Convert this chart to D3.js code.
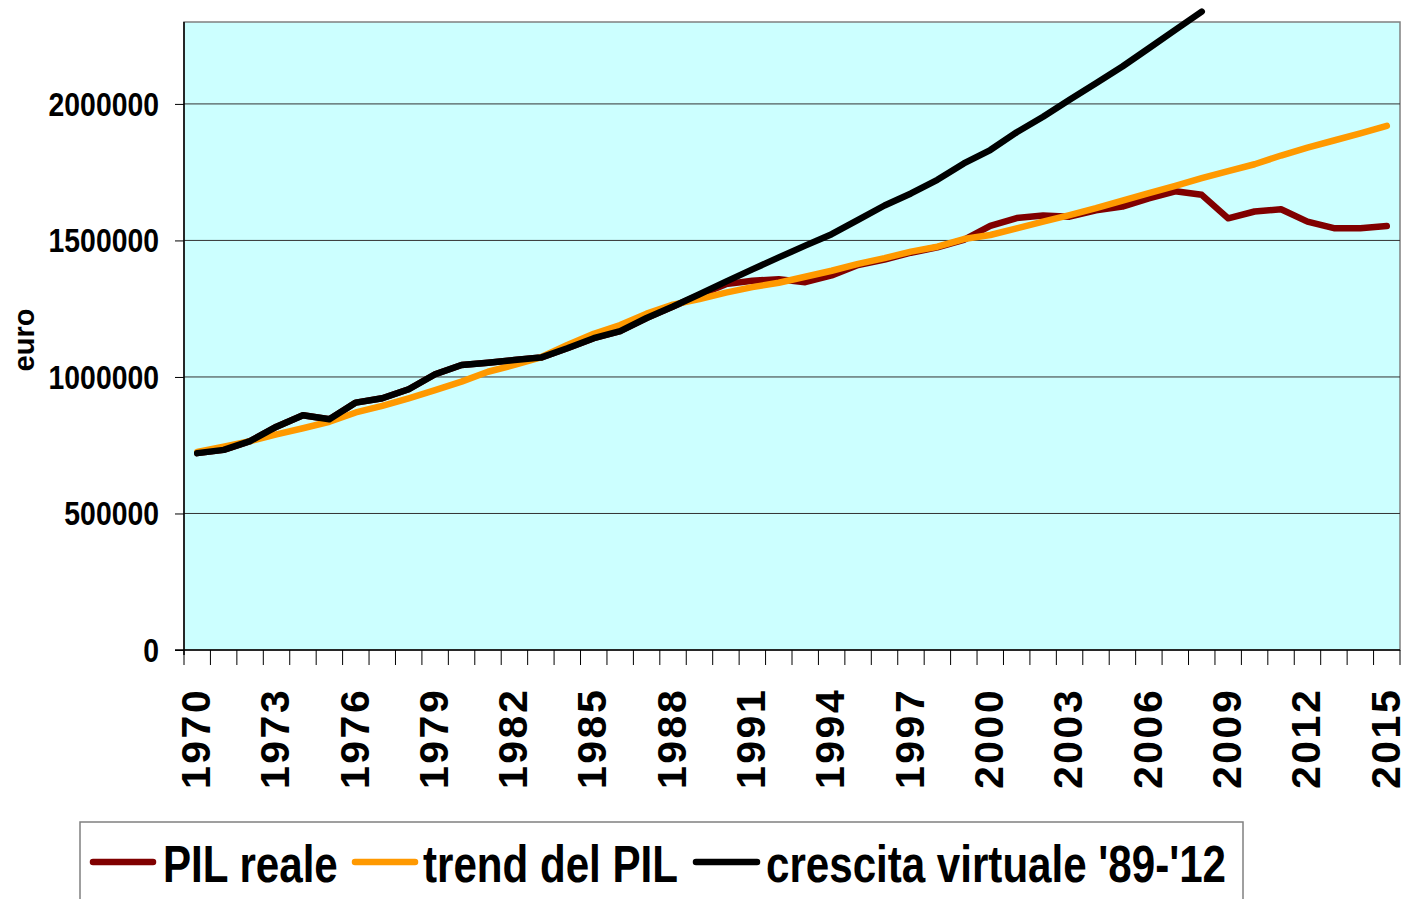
<!DOCTYPE html>
<html><head><meta charset="utf-8">
<script src="https://cdn.jsdelivr.net/npm/d3@7"></script>
<style>body{margin:0;background:#fff;} svg{display:block;font-family:"Liberation Sans",Arial,sans-serif;}</style>
</head><body>
<svg id="chart" width="1409" height="899"></svg>
<script>
const years = ["1970","1971","1972","1973","1974","1975","1976","1977","1978","1979","1980","1981","1982","1983","1984","1985","1986","1987","1988","1989","1990","1991","1992","1993","1994","1995","1996","1997","1998","1999","2000","2001","2002","2003","2004","2005","2006","2007","2008","2009","2010","2011","2012","2013","2014","2015"];
const pilReale = [721000,733000,765000,818000,860000,845000,906000,922000,955000,1010000,1044000,1052000,1062000,1071000,1105000,1142000,1168000,1216000,1258000,1300000,1340000,1352000,1358000,1347000,1372000,1410000,1430000,1455000,1475000,1502000,1553000,1582000,1591000,1587000,1610000,1624000,1654000,1680000,1667000,1581000,1606000,1614000,1569000,1545000,1545000,1553000];
const trendPil = [725000,745000,765000,790000,812000,836000,870000,894000,922000,952000,983000,1019000,1044000,1072000,1117000,1158000,1190000,1232000,1265000,1285000,1309000,1329000,1345000,1367000,1389000,1414000,1435000,1459000,1477000,1505000,1520000,1544000,1569000,1593000,1618000,1646000,1673000,1700000,1728000,1754000,1779000,1811000,1840000,1866000,1892000,1920000];
const crescitaVirtuale = [721000,733000,765000,818000,860000,845000,906000,922000,955000,1010000,1044000,1052000,1062000,1071000,1105000,1142000,1168000,1216000,1258000,1303000,1349000,1394000,1438000,1481000,1523000,1575000,1628000,1672000,1722000,1782000,1831000,1896000,1953000,2015000,2076000,2137000,2204000,2271000,2338000,null,null,null,null,null,null,null];
const yTicks = [0,500000,1000000,1500000,2000000];
const labelYears = ["1970","1973","1976","1979","1982","1985","1988","1991","1994","1997","2000","2003","2006","2009","2012","2015"];
const seriesNames = ["PIL reale","trend del PIL","crescita virtuale '89-'12"];
const seriesColors = ["#800000","#FF9900","#000000"];

const svg = d3.select("#chart");
const L = 184, R = 1400, T = 22, B = 650;
const x = d3.scaleBand().domain(years).range([L, R]).padding(0);
const y = d3.scaleLinear().domain([0, 2300000]).range([B, T]);

// plot background
svg.append("rect").attr("x", L).attr("y", T).attr("width", R - L).attr("height", B - T)
  .attr("fill", "#CCFFFF").attr("stroke", "#808080").attr("stroke-width", 1.5);

// gridlines
svg.append("g").selectAll("line").data(yTicks.filter(d => d > 0)).join("line")
  .attr("x1", L).attr("x2", R).attr("y1", d => y(d)).attr("y2", d => y(d))
  .attr("stroke", "#333").attr("stroke-width", 1);

// y axis
const yAxis = svg.append("g").attr("transform", `translate(${L},0)`)
  .call(d3.axisLeft(y).tickValues(yTicks).tickSize(9).tickFormat(""));
yAxis.select(".domain").attr("stroke", "#000").attr("stroke-width", 1.5).attr("d", `M0,${T}V${B + 5}`);
yAxis.selectAll(".tick line").attr("stroke", "#000");
svg.append("g").selectAll("text").data(yTicks).join("text")
  .attr("transform", d => `translate(159,${y(d)}) scale(0.86,1)`)
  .attr("dy", "0.36em").attr("text-anchor", "end")
  .attr("font-size", 33).attr("font-weight", "bold").attr("fill", "#000")
  .text(d => d);

// x axis
const xAxis = svg.append("g").attr("transform", `translate(0,${B})`)
  .call(d3.axisBottom(x).tickSize(0).tickFormat(""));
xAxis.select(".domain").attr("stroke", "#000").attr("stroke-width", 1.5).attr("d", `M${L - 9},0H${R}`);
svg.append("g").selectAll("line").data(years.concat(["end"])).join("line")
  .attr("x1", (d, i) => i < years.length ? x(d) : x(years[years.length - 1]) + x.bandwidth())
  .attr("x2", (d, i) => i < years.length ? x(d) : x(years[years.length - 1]) + x.bandwidth())
  .attr("y1", B).attr("y2", B + 15).attr("stroke", "#000").attr("stroke-width", 1);
svg.append("g").selectAll("text").data(labelYears).join("text")
  .attr("transform", d => `translate(${x(d) + x.bandwidth() / 2},${789}) rotate(-90)`)
  .attr("dy", "0.31em").attr("text-anchor", "start")
  .attr("font-size", 41).attr("letter-spacing", 2.5).attr("font-weight", "bold").attr("fill", "#000")
  .text(d => d);

// y title
svg.append("text").attr("transform", `translate(25,340) rotate(-90)`)
  .attr("dy", "0.3em").attr("text-anchor", "middle")
  .attr("font-size", 29).attr("font-weight", "bold").text("euro");

// lines
const line = d3.line().defined(d => d.v != null)
  .x(d => x(d.year) + x.bandwidth() / 2).y(d => y(d.v));
const allSeries = [pilReale, trendPil, crescitaVirtuale];
allSeries.forEach((vals, i) => {
  svg.append("path").datum(years.map((yr, j) => ({year: yr, v: vals[j]})))
    .attr("d", line).attr("fill", "none").attr("stroke", seriesColors[i])
    .attr("stroke-width", 6.5).attr("stroke-linejoin", "round").attr("stroke-linecap", "round");
});

// legend
const lg = svg.append("g");
lg.append("rect").attr("x", 80).attr("y", 822).attr("width", 1163).attr("height", 100)
  .attr("fill", "#fff").attr("stroke", "#808080").attr("stroke-width", 1.5);
const legendItems = [{x1: 93, x2: 153, tx: 163}, {x1: 355, x2: 415, tx: 423}, {x1: 696, x2: 757, tx: 766}];
legendItems.forEach((it, i) => {
  lg.append("line").attr("x1", it.x1).attr("x2", it.x2).attr("y1", 862).attr("y2", 862)
    .attr("stroke", seriesColors[i]).attr("stroke-width", 6.5).attr("stroke-linecap", "round");
  lg.append("text").attr("transform", `translate(${it.tx},882) scale(0.81,1)`)
    .attr("font-size", 52).attr("font-weight", "bold").attr("fill", "#000").text(seriesNames[i]);
});
</script>
</body></html>
